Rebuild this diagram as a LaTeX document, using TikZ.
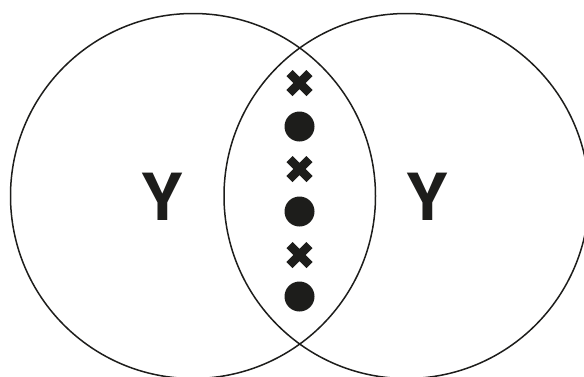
\documentclass[tikz,border=0pt]{standalone}
\usepackage{fontspec}
\setmainfont{TeX Gyre Heros}
\definecolor{ink}{HTML}{1D1D1B}
\begin{document}
\begin{tikzpicture}[x=1pt,y=-1pt,
  ring/.style={draw=ink,line width=1.5pt},
  letter/.style={text=ink,inner sep=0pt,font=\fontsize{65}{65}\selectfont\bfseries},
  dot/.style={circle,fill=ink,inner sep=0pt,minimum size=30pt},
  crossmark/.style={inner sep=0pt,minimum size=27pt,
    path picture={\draw[ink,line width=8.5pt]
      (path picture bounding box.south west)++(3.5pt,3.5pt) -- ([shift={(-3.5pt,-3.5pt)}]path picture bounding box.north east)
      ([shift={(3.5pt,-3.5pt)}]path picture bounding box.north west) -- ([shift={(-3.5pt,3.5pt)}]path picture bounding box.south east);}}]
\useasboundingbox (0,0) rectangle (584,376);
\begin{scope}
\clip (0,0) rectangle (584,376);
\node[ring,circle,minimum size=365pt,inner sep=0pt] (L) at (193,196) {};
\node[ring,circle,minimum size=365pt,inner sep=0pt] (R) at (406.5,196) {};
\end{scope}
\node[letter] (yl) at (162,196.5) {Y};
\node[letter] (yr) at (427.5,196.5) {Y};
\node[crossmark] (x1) at (299.5,83) {};
\node[dot] (d1) at (299.5,126.5) {};
\node[crossmark] (x2) at (299.5,169) {};
\node[dot] (d2) at (299.5,211.5) {};
\node[crossmark] (x3) at (299.5,255) {};
\node[dot] (d3) at (299.5,296.5) {};
\end{tikzpicture}
\end{document}
